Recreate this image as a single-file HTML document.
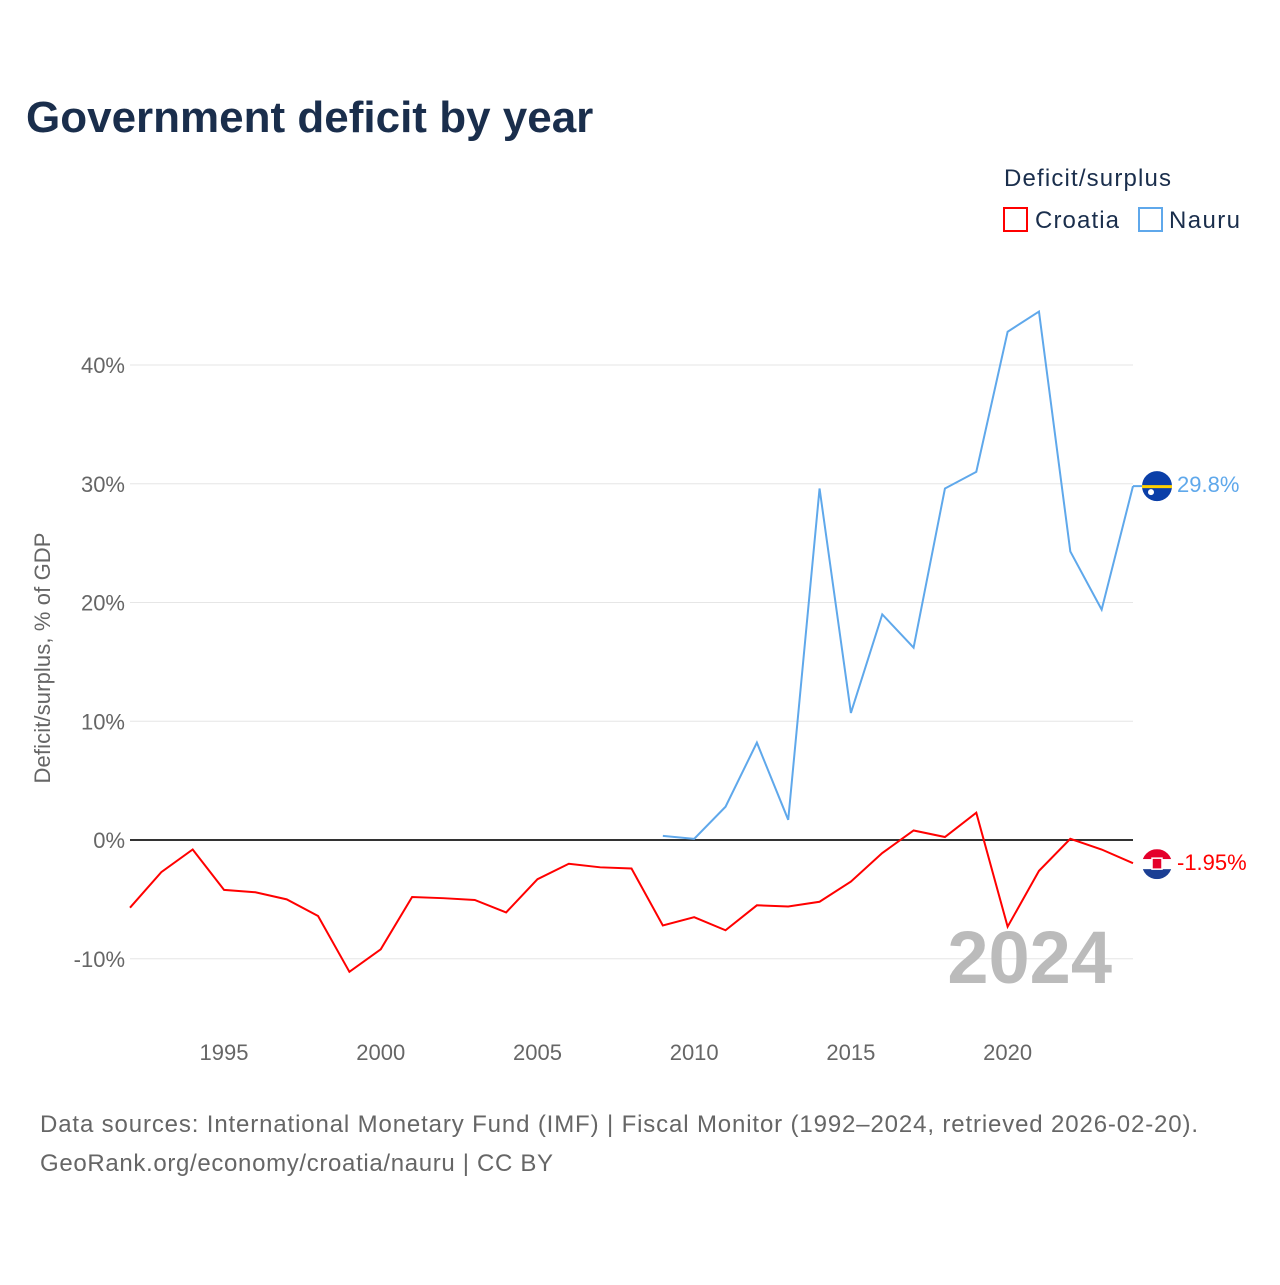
<!DOCTYPE html>
<html><head><meta charset="utf-8"><style>
body{margin:0;background:#fff;font-family:"Liberation Sans",sans-serif;}
</style></head><body>
<svg width="1280" height="1280" xmlns="http://www.w3.org/2000/svg" id="chart" style="font-family:'Liberation Sans',sans-serif">
<text x="26" y="132" font-size="44" font-weight="bold" fill="#1a2e4c">Government deficit by year</text>
<text x="1004" y="186" font-size="24" fill="#1a2e4c" textLength="167">Deficit/surplus</text>
<g><rect x="1004" y="208" width="23" height="23" fill="none" stroke="#f00" stroke-width="2"/><text x="1035" y="228" font-size="24" fill="#1a2e4c" textLength="84">Croatia</text></g>
<g><rect x="1139" y="208" width="23" height="23" fill="none" stroke="#5fa8eb" stroke-width="2"/><text x="1169" y="228" font-size="24" fill="#1a2e4c" textLength="71">Nauru</text></g>
<text transform="translate(50,658) rotate(-90)" text-anchor="middle" font-size="22" fill="#666" textLength="251">Deficit/surplus, % of GDP</text>
<g id="grid"></g><g id="series"></g>
<text x="1112" y="983" text-anchor="end" font-size="74" font-weight="bold" fill="#bbb">2024</text>
<text x="40" y="1132" font-size="24" fill="#666" textLength="1158">Data sources: International Monetary Fund (IMF) | Fiscal Monitor (1992–2024, retrieved 2026-02-20).</text>
<text x="40" y="1171" font-size="24" fill="#666" textLength="513">GeoRank.org/economy/croatia/nauru | CC BY</text>
</svg>
<script>
const yTicks=[-10,0,10,20,30,40];
const xTicks=[1995,2000,2005,2010,2015,2020];
const croatiaYears=[1992,1993,1994,1995,1996,1997,1998,1999,2000,2001,2002,2003,2004,2005,2006,2007,2008,2009,2010,2011,2012,2013,2014,2015,2016,2017,2018,2019,2020,2021,2022,2023,2024];
const croatiaValues=[-5.7,-2.7,-0.8,-4.2,-4.4,-5.0,-6.4,-11.1,-9.2,-4.8,-4.9,-5.05,-6.1,-3.3,-2.0,-2.3,-2.4,-7.2,-6.5,-7.6,-5.5,-5.6,-5.2,-3.5,-1.1,0.8,0.25,2.3,-7.3,-2.6,0.1,-0.8,-1.95];
const nauruYears=[2009,2010,2011,2012,2013,2014,2015,2016,2017,2018,2019,2020,2021,2022,2023,2024];
const nauruValues=[0.35,0.1,2.8,8.2,1.7,29.6,10.7,19.0,16.2,29.6,31.0,42.8,44.5,24.3,19.4,29.8];
const X=y=>130+(y-1992)*(1133-130)/32;
const Y=v=>840-v*11.875;
const NS="http://www.w3.org/2000/svg";
const grid=document.getElementById('grid'),ser=document.getElementById('series');
function mk(tag,attrs,parent){const e=document.createElementNS(NS,tag);for(const k in attrs)e.setAttribute(k,attrs[k]);parent.appendChild(e);return e;}
yTicks.forEach(t=>{
 const l=mk('line',{x1:130,x2:1133,y1:Y(t),y2:Y(t),stroke:t===0?'#333':'#e6e6e6','stroke-width':t===0?2:1},grid);
 
 
 const tx=mk('text',{x:125,y:Y(t)+8,'text-anchor':'end','font-size':22,fill:'#666'},grid);
 tx.textContent=t+'%';
 
 
});
xTicks.forEach(t=>{
 const tx=mk('text',{x:X(t),y:1060,'text-anchor':'middle','font-size':22,fill:'#666'},grid);
 tx.textContent=t;
 
 
});
function line(years,vals,color,name){
 const p=mk('polyline',{points:years.map((y,i)=>X(y)+','+Y(vals[i])).join(' '),fill:'none',stroke:color,'stroke-width':2},ser);
 
 
}
line(croatiaYears,croatiaValues,'#f00','croatia-line');
line(nauruYears,nauruValues,'#5fa8eb','nauru-line');
const nv=nauruValues[nauruValues.length-1],cv=croatiaValues[croatiaValues.length-1];
const ny=Y(nv),cy=Y(cv)+1;
mk('line',{x1:1133,x2:1145,y1:Y(nv),y2:ny,stroke:'#5fa8eb','stroke-width':2},ser);
const nf=mk('g',{},ser);


mk('circle',{cx:1157,cy:ny,r:15,fill:'#0b3fa8'},nf);
mk('rect',{x:1142,y:ny-1,width:30,height:3,fill:'#ffd100'},nf);
mk('circle',{cx:1151,cy:ny+6,r:3,fill:'#fff'},nf);
const nl=mk('text',{x:1177,y:ny+6,'font-size':22,fill:'#5fa8eb'},ser);
nl.textContent=nv.toFixed(1)+'%';


const cf=mk('g',{},ser);


mk('clipPath',{id:'cc'},cf);
mk('circle',{cx:1157,cy:cy,r:15},document.getElementById('cc'));
const cg=mk('g',{'clip-path':'url(#cc)'},cf);
mk('rect',{x:1142,y:cy-15,width:30,height:10,fill:'#e4002b'},cg);
mk('rect',{x:1142,y:cy-5,width:30,height:10,fill:'#fff'},cg);
mk('rect',{x:1142,y:cy+5,width:30,height:10,fill:'#1b3f94'},cg);
mk('rect',{x:1152,y:cy-6,width:10,height:11,fill:'#e4002b',stroke:'#fff','stroke-width':1.5},cg);
const cl=mk('text',{x:1177,y:cy+6,'font-size':22,fill:'#f00'},ser);
cl.textContent=cv.toFixed(2)+'%';


</script>
</body></html>
